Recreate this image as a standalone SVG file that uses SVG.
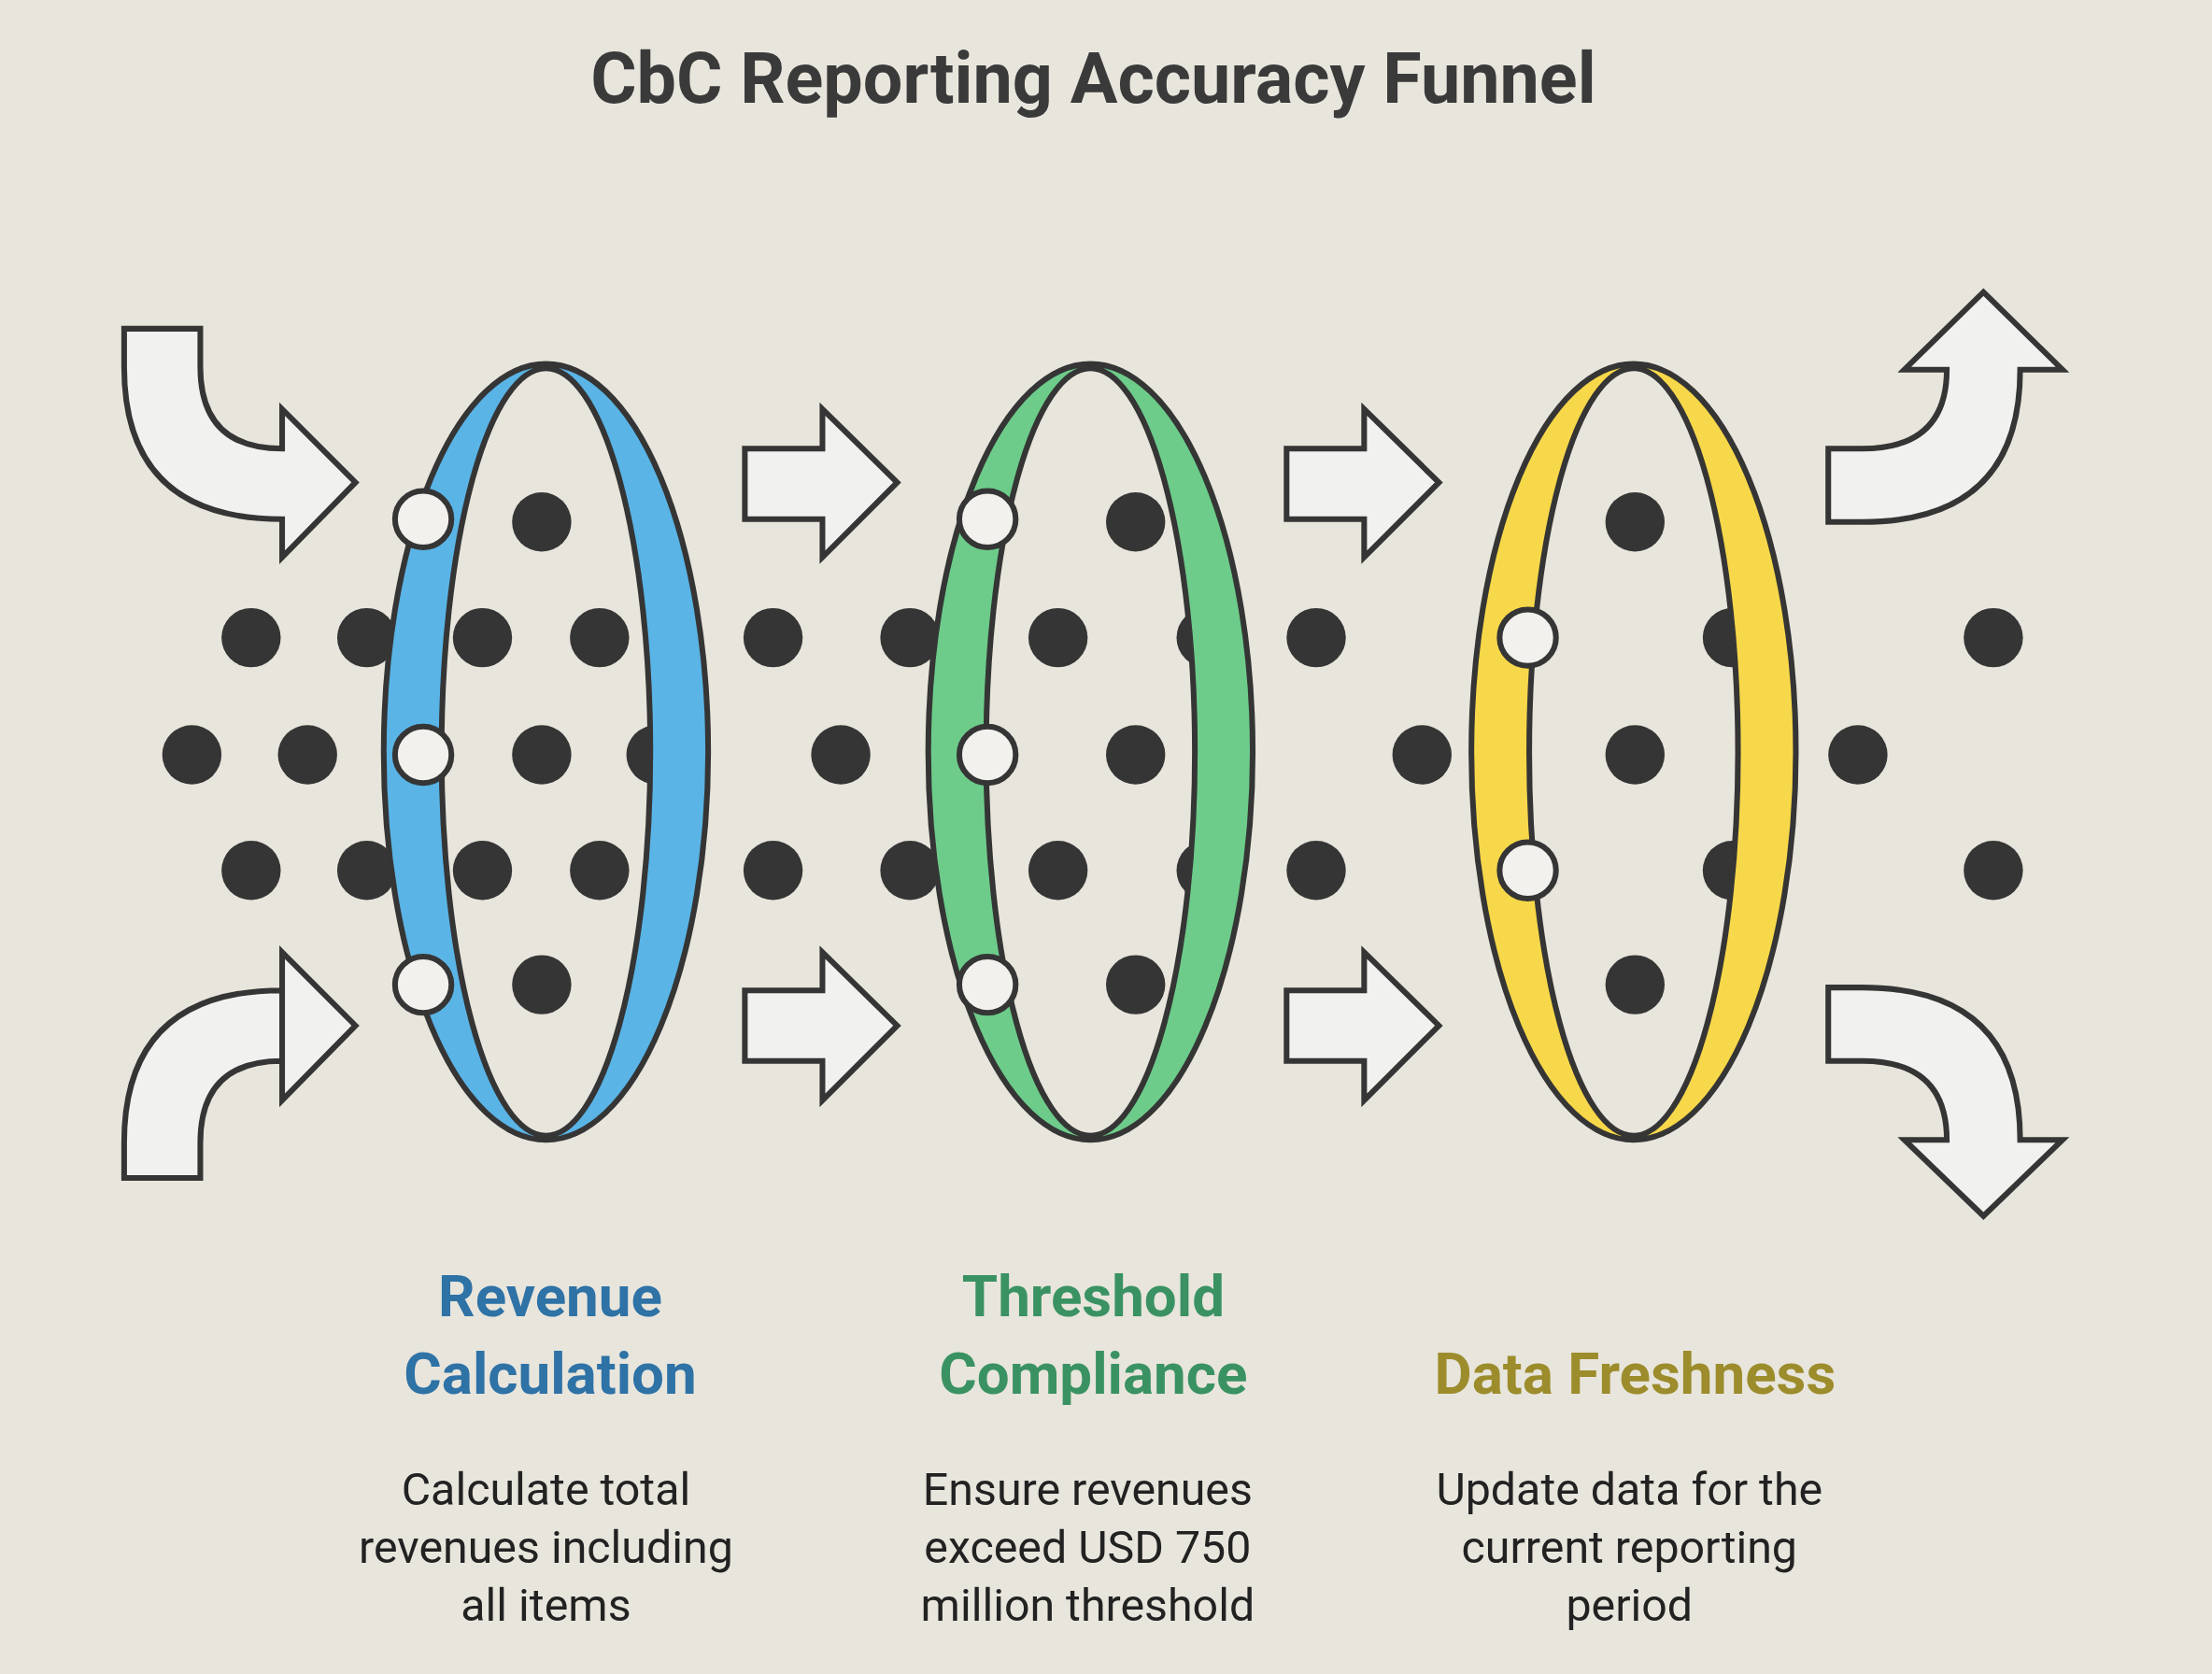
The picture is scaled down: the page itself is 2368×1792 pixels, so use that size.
<svg xmlns="http://www.w3.org/2000/svg" width="2368" height="1792" viewBox="0 0 2368 1792">
<style>
.d{fill:#353535}
.w{fill:#f2f1ee;stroke:#353535;stroke-width:4}
.ar{fill:#f1f1ef;stroke:#353535;stroke-width:4;stroke-linejoin:miter}
.band{fill-rule:evenodd;stroke:#353535;stroke-width:4}
.t{font-family:Roboto,"Open Sans",sans-serif;font-weight:bold;font-size:41px;text-anchor:middle}
.s{font-family:Roboto,"Open Sans",sans-serif;font-size:32px;fill:#222;text-anchor:middle}
</style>
<rect width="2368" height="1792" fill="#e8e5dc"/>
<g transform="scale(1.5102)">
<text x="775" y="73" font-family="Roboto,'Open Sans',sans-serif" font-weight="bold" font-size="50" fill="#3a3a3a" text-anchor="middle">CbC Reporting Accuracy Funnel</text>
<g id="connectors">
<path class="ar" d="M88,233 L142,233 L142,260 Q142,318 200,318 L200,290 L252,342 L200,395 L200,368 Q88,368 88,260 Z"/>
<path class="ar" d="M88,835 L142,835 L142,810 Q142,752 200,752 L200,675 L252,727 L200,780 L200,702 Q88,702 88,810 Z"/>
<path class="ar" d="M528,318 L583,318 L583,290 L636,342 L583,395 L583,368 L528,368 Z"/>
<path class="ar" d="M528,702 L583,702 L583,675 L636,727 L583,780 L583,752 L528,752 Z"/>
<path class="ar" d="M912,318 L967,318 L967,290 L1020,342 L967,395 L967,368 L912,368 Z"/>
<path class="ar" d="M912,702 L967,702 L967,675 L1020,727 L967,780 L967,752 L912,752 Z"/>
<path class="ar" d="M1296,318 L1320,318 Q1380,318 1380,262 L1350,262 L1406,207 L1462,262 L1432,262 Q1432,370 1320,370 L1296,370 Z"/>
<path class="ar" d="M1296,700 L1320,700 Q1432,700 1432,808 L1462,808 L1406,862 L1350,808 L1380,808 Q1380,752 1320,752 L1296,752 Z"/>
</g>
<g id="dots">
<circle class="d" cx="384" cy="370" r="21"/><circle class="d" cx="805" cy="370" r="21"/><circle class="d" cx="1159" cy="370" r="21"/>
<circle class="d" cx="178" cy="452" r="21"/><circle class="d" cx="260" cy="452" r="21"/><circle class="d" cx="342" cy="452" r="21"/><circle class="d" cx="425" cy="452" r="21"/><circle class="d" cx="548" cy="452" r="21"/><circle class="d" cx="645" cy="452" r="21"/><circle class="d" cx="750" cy="452" r="21"/><circle class="d" cx="855" cy="452" r="21"/><circle class="d" cx="933" cy="452" r="21"/><circle class="d" cx="1228" cy="452" r="21"/><circle class="d" cx="1413" cy="452" r="21"/>
<circle class="d" cx="136" cy="535" r="21"/><circle class="d" cx="218" cy="535" r="21"/><circle class="d" cx="384" cy="535" r="21"/><circle class="d" cx="465" cy="535" r="21"/><circle class="d" cx="596" cy="535" r="21"/><circle class="d" cx="805" cy="535" r="21"/><circle class="d" cx="1008" cy="535" r="21"/><circle class="d" cx="1159" cy="535" r="21"/><circle class="d" cx="1317" cy="535" r="21"/>
<circle class="d" cx="178" cy="617" r="21"/><circle class="d" cx="260" cy="617" r="21"/><circle class="d" cx="342" cy="617" r="21"/><circle class="d" cx="425" cy="617" r="21"/><circle class="d" cx="548" cy="617" r="21"/><circle class="d" cx="645" cy="617" r="21"/><circle class="d" cx="750" cy="617" r="21"/><circle class="d" cx="855" cy="617" r="21"/><circle class="d" cx="933" cy="617" r="21"/><circle class="d" cx="1228" cy="617" r="21"/><circle class="d" cx="1413" cy="617" r="21"/>
<circle class="d" cx="384" cy="698" r="21"/><circle class="d" cx="805" cy="698" r="21"/><circle class="d" cx="1159" cy="698" r="21"/>
</g>
<g id="ring-revenue">
<path class="band" fill="#5ab4e6" d="M272,533 a115,275 0 1,0 230,0 a115,275 0 1,0 -230,0 Z M313,533 a74,272 0 1,0 148,0 a74,272 0 1,0 -148,0 Z"/>
</g>
<g id="ring-threshold">
<path class="band" fill="#6dcc8a" d="M658,533 a115,275 0 1,0 230,0 a115,275 0 1,0 -230,0 Z M699,533 a74,272 0 1,0 148,0 a74,272 0 1,0 -148,0 Z"/>
</g>
<g id="ring-freshness">
<path class="band" fill="#f7d84a" d="M1043,533 a115,275 0 1,0 230,0 a115,275 0 1,0 -230,0 Z M1084,533 a74,272 0 1,0 148,0 a74,272 0 1,0 -148,0 Z"/>
</g>
<g id="white-dots">
<circle class="w" cx="300" cy="368" r="20"/><circle class="w" cx="300" cy="535" r="20"/><circle class="w" cx="300" cy="698" r="20"/>
<circle class="w" cx="700" cy="368" r="20"/><circle class="w" cx="700" cy="535" r="20"/><circle class="w" cx="700" cy="698" r="20"/>
<circle class="w" cx="1083" cy="452" r="20"/><circle class="w" cx="1083" cy="617" r="20"/>
</g>
<g id="label-revenue">
<text class="t" x="390" y="933" fill="#2e72a6">Revenue</text>
<text class="t" x="390" y="988" fill="#2e72a6">Calculation</text>
<text class="s" x="387" y="1067">Calculate total</text>
<text class="s" x="387" y="1108">revenues including</text>
<text class="s" x="387" y="1149">all items</text>
</g>
<g id="label-threshold">
<text class="t" x="775" y="933" fill="#3a9263">Threshold</text>
<text class="t" x="775" y="988" fill="#3a9263">Compliance</text>
<text class="s" x="771" y="1067">Ensure revenues</text>
<text class="s" x="771" y="1108">exceed USD 750</text>
<text class="s" x="771" y="1149">million threshold</text>
</g>
<g id="label-freshness">
<text class="t" x="1159" y="988" fill="#9c8c2c">Data Freshness</text>
<text class="s" x="1155" y="1067">Update data for the</text>
<text class="s" x="1155" y="1108">current reporting</text>
<text class="s" x="1155" y="1149">period</text>
</g>
</g>
</svg>
